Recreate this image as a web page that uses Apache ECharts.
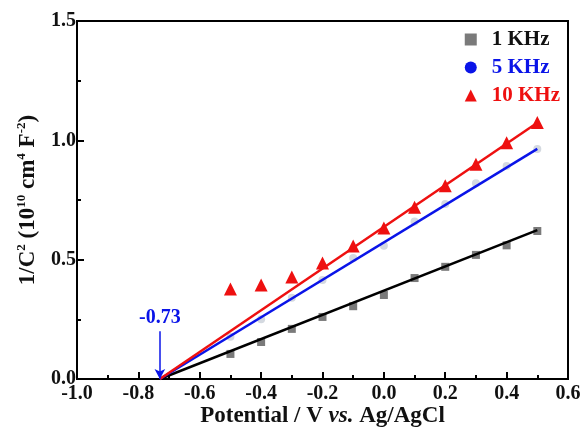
<!DOCTYPE html>
<html lang="en">
<head>
  <meta charset="UTF-8" />
  <title>Mott-Schottky</title>
  <script src="https://cdn.jsdelivr.net/npm/echarts@6/dist/echarts.min.js"></script>
  <style>
    body { margin: 0; background: #fff; }
    #chart { width: 585px; height: 432px; }
  </style>
</head>
<body>
  <div id="chart"></div>
  <script>
    // potentials (V vs Ag/AgCl)
    const potentials = [-0.5, -0.4, -0.3, -0.2, -0.1, 0.0, 0.1, 0.2, 0.3, 0.4, 0.5];
    // 1/C^2 values (10^10 cm^4 F^-2)
    const data1k = [0.105, 0.155, 0.21, 0.26, 0.305, 0.352, 0.423, 0.47, 0.52, 0.56, 0.62];
    const data5k = [0.177, 0.25, 0.34, 0.415, 0.507, 0.558, 0.66, 0.733, 0.82, 0.892, 0.964];
    const data10k = [0.377, 0.394, 0.427, 0.486, 0.557, 0.633, 0.72, 0.81, 0.90, 0.99, 1.075];
    // linear fits: from flat-band potential to 0.5 V
    const flatBand = -0.73;
    const fitEnd = 0.5;
    const fitEndValues = { '1 KHz': 0.624, '5 KHz': 0.964, '10 KHz': 1.074 };
    const arrowTop = 0.2;

    const font = '"Liberation Serif", "Times New Roman", serif';
    const pair = arr => potentials.map((x, i) => [x, arr[i]]);
    const fit = name => [[flatBand, 0], [fitEnd, fitEndValues[name]]];

    const chart = echarts.init(document.getElementById('chart'));
    chart.setOption({
      animation: false,
      backgroundColor: '#fff',
      grid: {
        left: 77, right: 17, top: 21, bottom: 53, outerBoundsMode: 'none',
        show: true, borderColor: '#000', borderWidth: 2
      },
      legend: {
        orient: 'vertical', right: 20, top: 24, itemGap: 7,
        itemWidth: 12, itemHeight: 12,
        textStyle: { fontFamily: font, fontWeight: 'bold', fontSize: 21, padding: [0, 0, 0, 10] },
        data: [
          { name: '1 KHz', icon: 'rect', itemStyle: { color: '#7a7a7a' }, textStyle: { color: '#111' } },
          { name: '5 KHz', icon: 'circle', itemStyle: { color: '#0a14e8' }, textStyle: { color: '#0a14e8' } },
          { name: '10 KHz', icon: 'triangle', itemStyle: { color: '#ee1010' }, textStyle: { color: '#ee1010' } }
        ]
      },
      xAxis: {
        type: 'value', min: -1.0, max: 0.6, interval: 0.2,
        name: '{b|Potential / V }{i|vs.}{b| Ag/AgCl}',
        nameLocation: 'middle', nameGap: 26, nameMoveOverlap: false,
        nameTextStyle: {
          rich: {
            b: { fontFamily: font, fontWeight: 'bold', fontSize: 23, color: '#111' },
            i: { fontFamily: font, fontWeight: 'bold', fontStyle: 'italic', fontSize: 23, color: '#111' }
          }
        },
        axisLine: { onZero: false, lineStyle: { color: '#000', width: 2 } },
        axisTick: { inside: true, length: 7, lineStyle: { color: '#000', width: 2 } },
        minorTick: { show: true, splitNumber: 2, length: 4, lineStyle: { color: '#000', width: 2 } },
        splitLine: { show: false },
        axisLabel: {
          fontFamily: font, fontWeight: 'bold', fontSize: 20, color: '#111', margin: 5,
          formatter: v => v.toFixed(1)
        }
      },
      yAxis: {
        type: 'value', min: 0, max: 1.5, interval: 0.5,
        name: '{b|1/C}{s|2}{b| (10}{s|10}{b| cm}{s|4}{b| F}{s|-2}{b|)}',
        nameLocation: 'middle', nameGap: 36, nameRotate: 90, nameMoveOverlap: false,
        nameTextStyle: {
          rich: {
            b: { fontFamily: font, fontWeight: 'bold', fontSize: 23, color: '#111', lineHeight: 26 },
            s: { fontFamily: font, fontWeight: 'bold', fontSize: 13, color: '#111', verticalAlign: 'top', lineHeight: 26, padding: [0, 0, 10, 0] }
          }
        },
        axisLine: { onZero: false, lineStyle: { color: '#000', width: 2 } },
        axisTick: { inside: true, length: 7, lineStyle: { color: '#000', width: 2 } },
        minorTick: { show: true, splitNumber: 2, length: 4, lineStyle: { color: '#000', width: 2 } },
        splitLine: { show: false },
        axisLabel: {
          fontFamily: font, fontWeight: 'bold', fontSize: 20, color: '#111', margin: 1,
          formatter: v => v.toFixed(1)
        }
      },
      series: [
        {
          name: '1 KHz', type: 'scatter', symbol: 'rect', symbolSize: 8,
          itemStyle: { color: '#7a7a7a', opacity: 1 }, data: pair(data1k), z: 3
        },
        {
          name: '5 KHz', type: 'scatter', symbol: 'circle', symbolSize: 8,
          itemStyle: { color: '#d4d9e0', opacity: 1 }, data: pair(data5k), z: 3
        },
        {
          name: '10 KHz', type: 'scatter', symbol: 'triangle', symbolSize: 13,
          itemStyle: { color: '#ee1010', opacity: 1 }, data: pair(data10k), z: 3
        },
        {
          name: 'fit1', type: 'line', symbol: 'none', data: fit('1 KHz'),
          lineStyle: { color: '#000', width: 2.5 }, z: 4
        },
        {
          name: 'fit5', type: 'line', symbol: 'none', data: fit('5 KHz'),
          lineStyle: { color: '#0a14e8', width: 2.5 }, z: 4
        },
        {
          name: 'fit10', type: 'line', symbol: 'none', data: fit('10 KHz'),
          lineStyle: { color: '#ee1010', width: 2.5 }, z: 4,
          markLine: {
            silent: true, symbol: ['none', 'arrow'], symbolSize: [8, 10],
            lineStyle: { color: '#0a14e8', width: 1.5, type: 'solid' },
            label: {
              show: true, position: 'start', formatter: flatBand.toFixed(2),
              fontFamily: font, fontWeight: 'bold', fontSize: 20, color: '#0a14e8', distance: 3
            },
            data: [[{ coord: [flatBand, arrowTop] }, { coord: [flatBand, 0] }]]
          }
        }
      ]
    });
  </script>
</body>
</html>
